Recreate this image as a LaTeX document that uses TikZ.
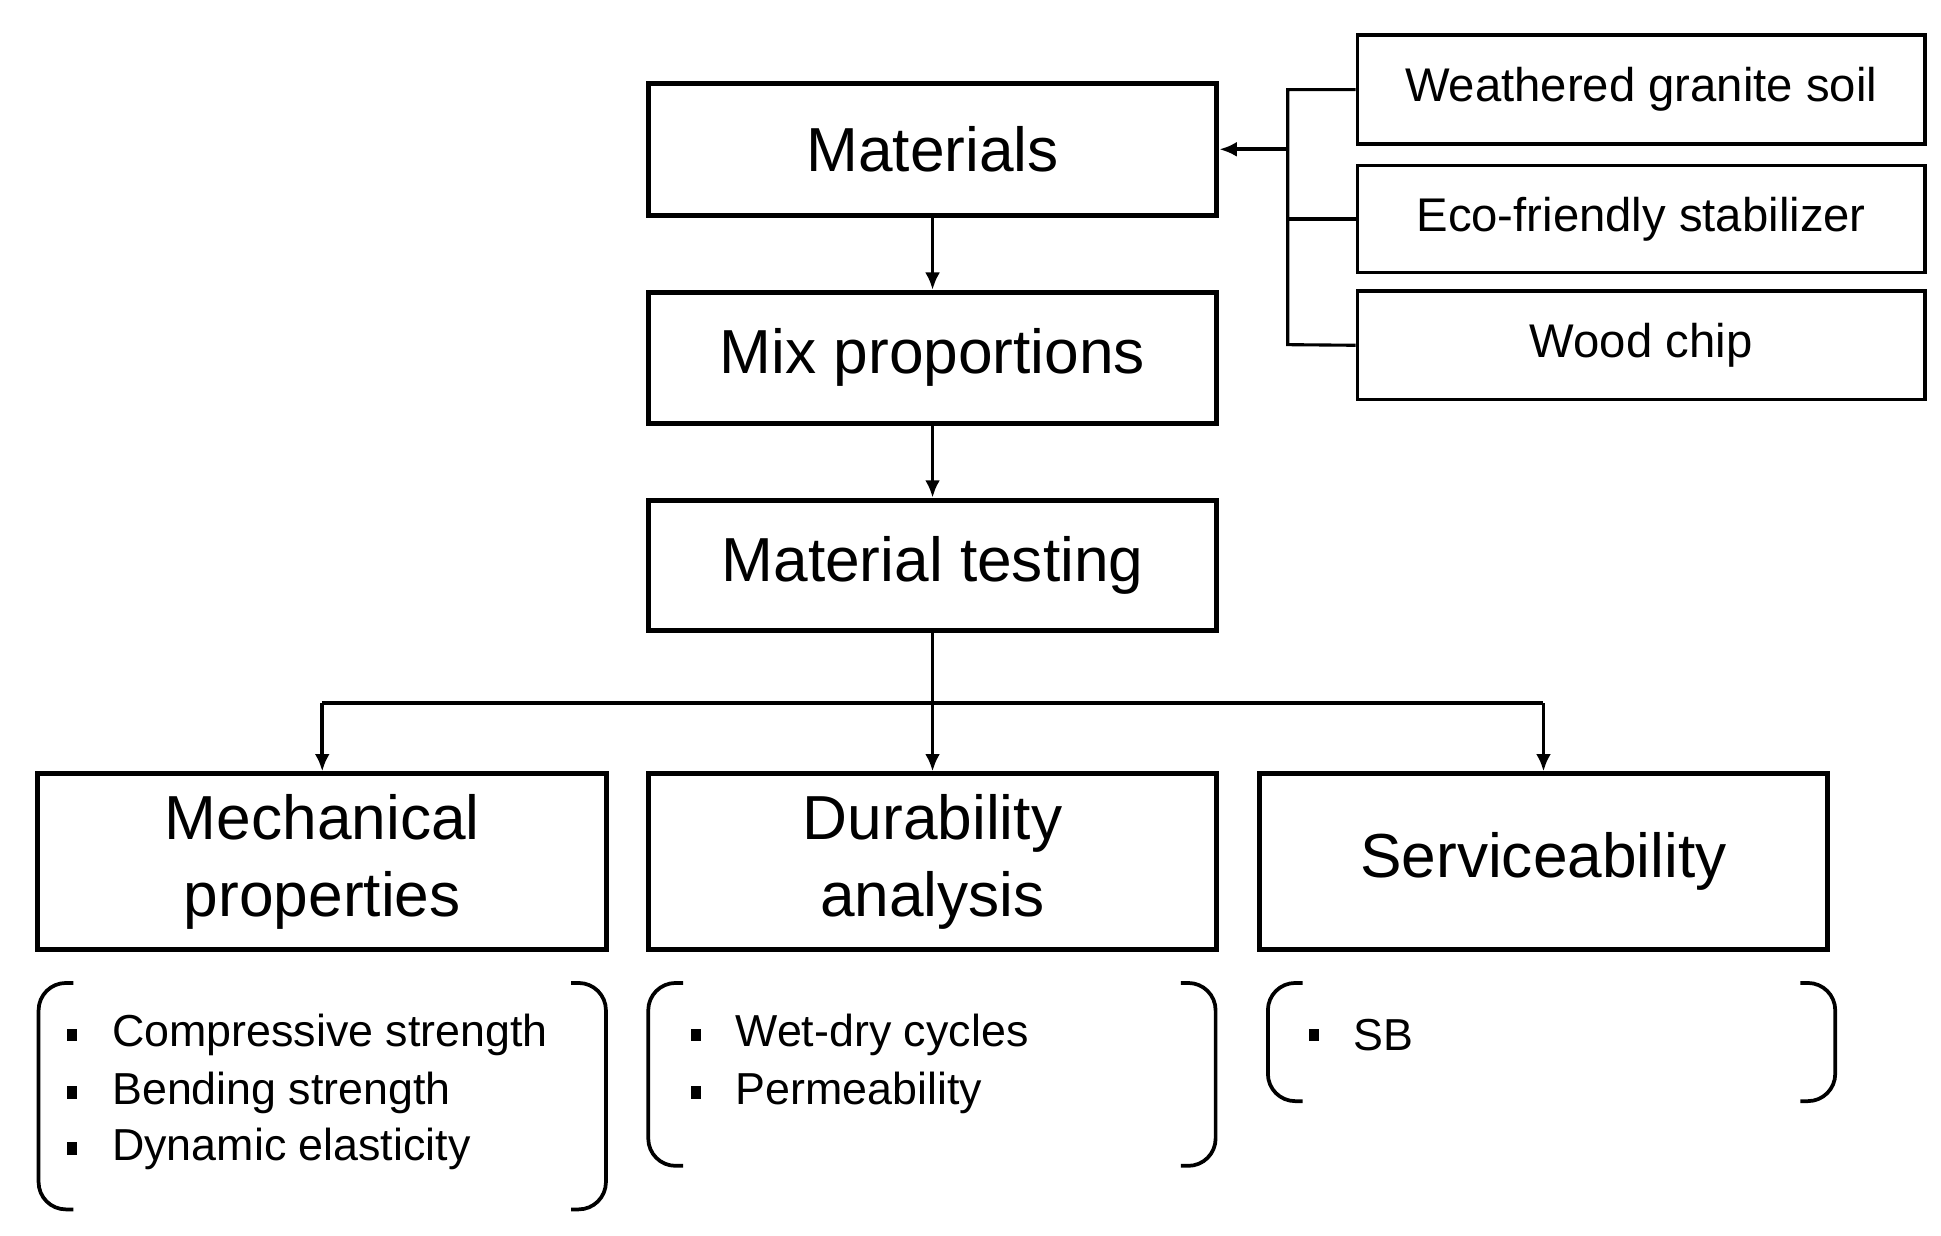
\documentclass[tikz,border=0pt]{standalone}
\usepackage{fontspec}
\setmainfont{Liberation Sans}
\usetikzlibrary{arrows.meta}
\begin{document}
\begin{tikzpicture}[x=1pt,y=-1pt,
 box/.style={draw,line width=4pt,minimum width=457pt,inner sep=0pt,align=center,font=\fontsize{50}{62}\selectfont},
 sbox/.style={draw,line width=3pt,minimum width=456pt,inner sep=0pt,font=\fontsize{38}{44}\selectfont},
 arr/.style={line width=3pt,-{Latex[length=14pt,width=12pt]}},
 ln/.style={line width=2.5pt},
 br/.style={line width=3pt,rounded corners=22pt},
 item/.style={anchor=west,font=\fontsize{36}{40}\selectfont,inner sep=0pt}]
\useasboundingbox (0,0) rectangle (1560,993);
\node[box,minimum height=106pt] (mat) at (749.5,120) {Materials};
\node[box,minimum height=105pt] (mix) at (749.5,287.5) {Mix proportions};
\node[box,minimum height=105pt] (test) at (749.5,454.5) {Material testing};
\node[sbox,minimum height=88pt] (w) at (1319,72) {Weathered granite soil};
\node[sbox,minimum height=86pt] (e) at (1319,176) {Eco-friendly stabilizer};
\node[sbox,minimum height=87pt] (c) at (1319,277.5) {Wood chip};
\node[box,minimum height=141pt] (mech) at (259,692.5) {Mechanical\\properties};
\node[box,minimum height=141pt] (dur) at (749.5,692.5) {Durability\\analysis};
\node[box,minimum height=141pt] (serv) at (1240.5,692.5) {Serviceability};
\coordinate (j) at (1035,120);
\draw[ln] (w.west) -| (1035,277) -- (c.west);
\draw[ln] (e.west) -- (1035,176);
\draw[arr] (j) -- (mat.east);
\draw[arr] (mat) -- (mix);
\draw[arr] (mix) -- (test);
\draw[arr] (test.south) -- (dur.north);
\draw[line width=3pt] (mech.north|-0,565) -- (serv.north|-0,565);
\draw[arr] (mech.north|-0,565) -- (mech.north);
\draw[arr] (serv.north|-0,565) -- (serv.north);
% brackets
\foreach \l/\r/\t/\b in {31/487/790/972, 521/977/790/937, 1019/1475/790/885}{
 \draw[br] (\l+28,\t) -- (\l,\t) -- (\l,\b) -- (\l+28,\b);
 \draw[br] (\r-28,\t) -- (\r,\t) -- (\r,\b) -- (\r-28,\b);
}
\foreach \x/\y/\s [count=\i] in {58/832/Compressive strength,58/878/Bending strength,58/923/Dynamic elasticity,559/832/Wet-dry cycles,559/878/Permeability,1056/832/SB/GB test}{
 \fill (\x-4,\y-5) rectangle (\x+4,\y+5);
 \node[item] (t\i) at (\x+32,\y) {\s};
}
\end{tikzpicture}
\end{document}
